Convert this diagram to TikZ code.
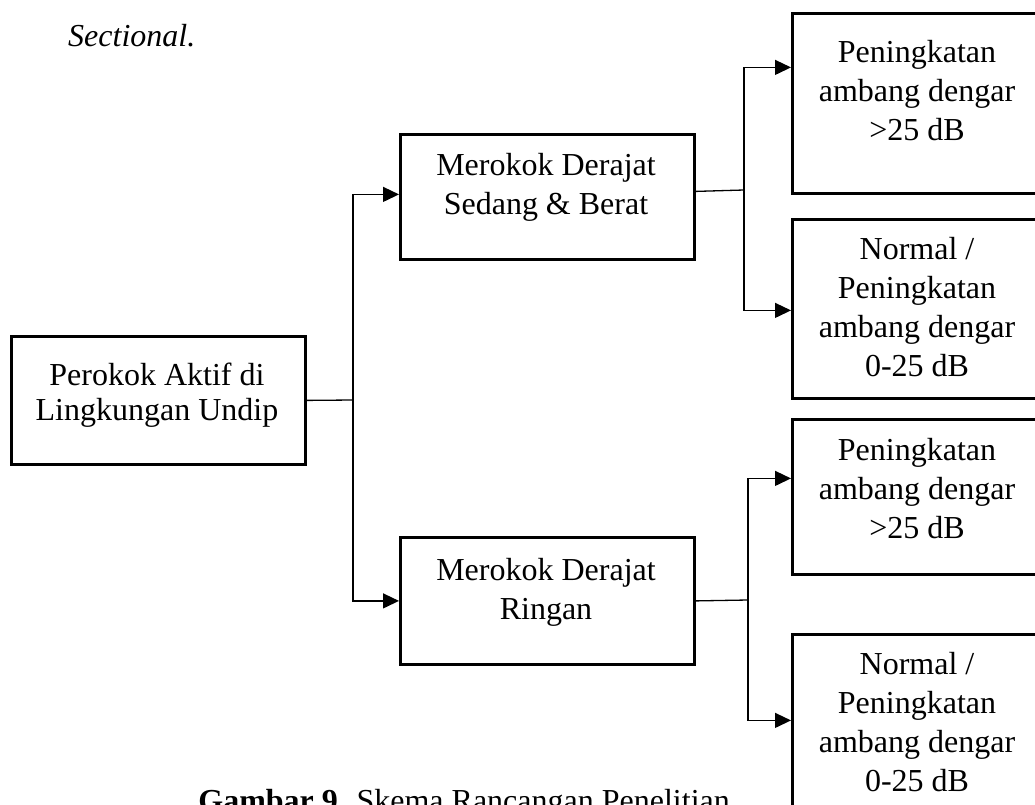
\documentclass[tikz,border=0pt]{standalone}
\usepackage{fontspec}
\setmainfont{Liberation Serif}
\usetikzlibrary{arrows.meta}
\tikzset{
  box/.style={draw, line width=2.8pt, rectangle, inner sep=0pt, anchor=north west},
  txt/.style={anchor=base, align=center, inner sep=0pt, font=\fontsize{32}{39}\selectfont},
  conn/.style={line width=1.3pt},
  arr/.style={conn, -{Triangle[length=16pt,width=15pt]}},
}
\begin{document}
\begin{tikzpicture}[x=1pt,y=-1pt]
\useasboundingbox (0,0) rectangle (1035,805);
\clip (0,0) rectangle (1035,805);
% boxes
\node[box, minimum width=294pt, minimum height=128pt] (L) at (10,335) {};
\node[box, minimum width=294pt, minimum height=125pt] (M1) at (399,133) {};
\node[box, minimum width=294pt, minimum height=127pt] (M2) at (399,536) {};
\node[box, minimum width=254pt, minimum height=180pt] (R1) at (791,12) {};
\node[box, minimum width=254pt, minimum height=179pt] (R2) at (791,218) {};
\node[box, minimum width=254pt, minimum height=155pt] (R3) at (791,418) {};
\node[box, minimum width=254pt, minimum height=200pt] (R4) at (791,633) {};
% texts (anchor base = baseline of the last line)
\node[txt, font=\fontsize{32}{35}\selectfont] (tL) at (157,420.5) {Perokok Aktif di\\Lingkungan Undip};
\node[txt] (tM1) at (546,214) {Merokok Derajat\\Sedang \& Berat};
\node[txt] (tM2) at (546,619) {Merokok Derajat\\Ringan};
\node[txt] (tR1) at (917,140.7) {Peningkatan\\ambang dengar\\>25 dB};
\node[txt] (tR2) at (917,376) {Normal /\\Peningkatan\\ambang dengar\\0-25 dB};
\node[txt] (tR3) at (917,538) {Peningkatan\\ambang dengar\\>25 dB};
\node[txt] (tR4) at (917,791) {Normal /\\Peningkatan\\ambang dengar\\0-25 dB};
% page text
\node[anchor=base west, inner sep=0pt, font=\fontsize{32}{39}\selectfont\itshape] (sec) at (68,46.7) {Sectional.};
\node[anchor=base east, inner sep=0pt, font=\fontsize{32}{39}\selectfont] (cap) at (730,811) {\textbf{Gambar 9.} Skema Rancangan Penelitian};
% connectors
\coordinate (j1) at (353,400);
\coordinate (j2) at (744,190);
\coordinate (j3) at (748,600);
\draw[conn] (L.east) -- (j1);
\draw[arr] (j1) |- ([yshift=2.5pt]M1.west);
\draw[arr] (j1) |- (M2.west);
\draw[conn] ([yshift=5.5pt]M1.east) -- (j2);
\draw[arr] (j2) |- ([yshift=36pt]R1.west);
\draw[arr] (j2) |- ([yshift=-1.5pt]R2.west);
\draw[conn] (M2.east) -- (j3);
\draw[arr] (j3) |- ([yshift=18.5pt]R3.west);
\draw[arr] (j3) |- ([yshift=14pt]R4.west);
\end{tikzpicture}
\end{document}
